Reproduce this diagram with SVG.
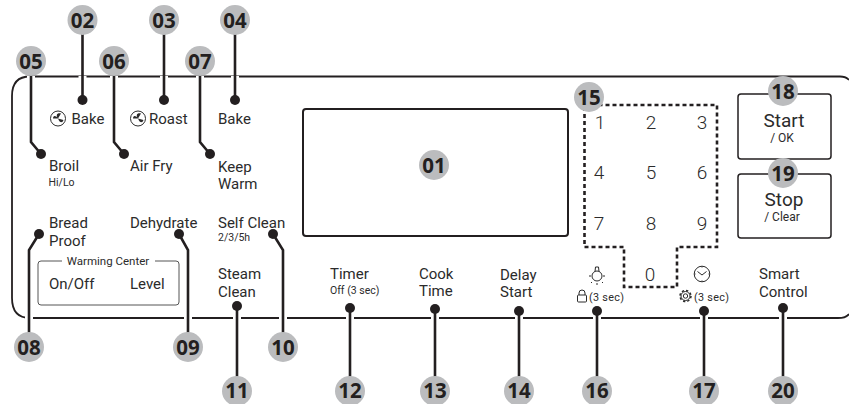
<svg xmlns="http://www.w3.org/2000/svg" width="849" height="404" viewBox="0 0 849 404">
<style>
text{font-family:Roboto,"Noto Sans","Liberation Sans",sans-serif;fill:#2b2b2b}
.l{font-size:15px}
.s{font-size:10.500px}
.t{font-size:10.800px;letter-spacing:.3px}
.k{font-size:19px;font-weight:300}
.n{font-family:"Noto Sans",sans-serif;font-size:20.500px;font-weight:700;fill:#231f20;text-anchor:middle}
.m{text-anchor:middle}
.b{fill:#bbbcbe}
.halo{fill:none;stroke:#fff;stroke-width:8}
.lead{fill:none;stroke:#231f20;stroke-width:2.600}
.dot{fill:#231f20}
.ic{fill:none;stroke:#2b2b2b;stroke-width:1}
</style>
<g id="panel"><path d="M849 80Q846 76.500 840 76.500H30Q12 76.500 12 96V298Q12 318 30 318H838Q846 318 849 314" fill="none" stroke="#231f20" stroke-width="1.800"/></g>
<g id="display"><rect x="303" y="109" width="265" height="127" rx="3" fill="#fff" stroke="#231f20" stroke-width="2"/></g>
<g id="keypad">
<path d="M584.500 105H717V247H677V287H624V247H584.500Z" fill="none" stroke="#231f20" stroke-width="2.600" stroke-dasharray="4 3"/>
<text x="600" y="129" class="k m">1</text><text x="651" y="129" class="k m">2</text><text x="702" y="129" class="k m">3</text><text x="599" y="179" class="k m">4</text><text x="651" y="179" class="k m">5</text><text x="702" y="179" class="k m">6</text><text x="599" y="230" class="k m">7</text><text x="651" y="230" class="k m">8</text><text x="702" y="230" class="k m">9</text><text x="650" y="281" class="k m">0</text>
</g>
<g id="connectors">
<path class="halo" d="M31 76V142L41 154M82.500 76V100M114 76V142L124 154M164 76V100M200 76V142L210 154M235 76V100M29 345V250L39 234M188 345V250L179 234M283 345V250L273 234M237 390V306M350 390V308M435 390V309M519 390V311M597 390V311M704 390V311M783 390V308"/>
<path class="lead" d="M31 61V142L41 154M82.500 20V100M114 61V142L124 154M164 20V100M200 61V142L210 154M235 20V100M29 345V250L39 234M188 345V250L179 234M283 345V250L273 234M237 390V306M350 390V308M435 390V309M519 390V311M597 390V311M704 390V311M783 390V308"/>
<g class="dot"><circle cx="82.500" cy="100" r="5"/><circle cx="164" cy="100" r="5"/><circle cx="235" cy="100" r="5"/><circle cx="41" cy="154" r="5"/><circle cx="124" cy="154" r="5"/><circle cx="210" cy="154" r="5"/><circle cx="39" cy="234" r="5"/><circle cx="179" cy="234" r="5"/><circle cx="273" cy="234" r="5"/><circle cx="237" cy="306" r="5"/><circle cx="350" cy="308" r="5"/><circle cx="435" cy="309" r="5"/><circle cx="519" cy="311" r="5"/><circle cx="597" cy="311" r="5"/><circle cx="704" cy="311" r="5"/><circle cx="783" cy="308" r="5"/></g>
</g>
<g id="labels">
<g class="ic"><circle cx="58" cy="118.500" r="7.500"/><path d="M58 118.500C55.500 115 57 112.500 61 113.500L58 118.500L63.500 120C62.500 123 60 123.500 58 118.500L53 118.500C53 115.500 55.500 115 58 118.500Z" fill="#2b2b2b" stroke="none"/></g>
<text x="71.500" y="124" class="l">Bake</text>
<g class="ic"><circle cx="138" cy="118.500" r="7.500"/><path d="M138 118.500C135.500 115 137 112.500 141 113.500L138 118.500L143.500 120C142.500 123 140 123.500 138 118.500L133 118.500C133 115.500 135.500 115 138 118.500Z" fill="#2b2b2b" stroke="none"/></g>
<text x="149" y="124" class="l">Roast</text>
<text x="218" y="124" class="l">Bake</text>
<text x="49" y="171" class="l">Broil</text><text x="48.500" y="186" class="s">Hi/Lo</text>
<text x="130" y="171" class="l">Air Fry</text>
<text x="218" y="172" class="l">Keep</text><text x="218" y="189" class="l">Warm</text>
<text x="49" y="228" class="l">Bread</text><text x="49" y="246" class="l">Proof</text>
<text x="130" y="228" class="l">Dehydrate</text>
<text x="218" y="228" class="l">Self Clean</text><text x="218" y="241" class="s">2/3/5h</text>
<text x="218" y="279" class="l">Steam</text><text x="218" y="297" class="l">Clean</text>
<text x="330" y="279" class="l">Timer</text><text x="330" y="294" class="s">Off (3 sec)</text>
<text x="419" y="279" class="l">Cook</text><text x="419" y="296" class="l">Time</text>
<text x="500" y="280" class="l">Delay</text><text x="500" y="297" class="l">Start</text>
<text x="759" y="279" class="l">Smart</text><text x="759" y="297" class="l">Control</text>
<g class="ic"><circle cx="597" cy="276" r="5"/><path d="M595 271.500L595.500 267H598.500L599 271.500M589 276H591M603 276H605M592 282L591 283M602 282L603 283M597 283V285"/></g>
<g class="ic"><rect x="577.500" y="295" width="9" height="7" rx="1"/><path d="M579 295V293A3 3 0 0 1 585 293V295"/></g>
<text x="589" y="300.500" class="t">(3 sec)</text>
<g class="ic"><circle cx="702" cy="274" r="7.800"/><path d="M697.500 271.500L702 275L706.500 271.500M702 266.500V267.500M702 280.500V281.500M694.500 274H695.500M708.500 274H709.500"/></g>
<g class="ic"><circle cx="685.500" cy="296" r="2.200"/><circle cx="685.500" cy="296" r="4.500"/><circle cx="685.500" cy="296" r="5.500" stroke-width="1.500" stroke-dasharray="2.300 2"/></g>
<text x="694" y="300.500" class="t">(3 sec)</text>
</g>
<g id="warming-center">
<path d="M62 261H41Q38 261 38 264V302Q38 305 41 305H176Q179 305 179 302V264Q179 261 176 261H155" fill="none" stroke="#555" stroke-width="1"/>
<text x="108" y="265" class="m" style="font-size:11.500px">Warming Center</text>
<text x="49" y="289" class="l">On/Off</text><text x="130" y="289" class="l">Level</text>
</g>
<g id="start"><rect x="738" y="94" width="93" height="65" rx="3" fill="#fff" stroke="#231f20" stroke-width="1.500"/><text x="784" y="127" class="m" style="font-size:19px">Start</text><text x="782" y="142" class="m" style="font-size:12px">/ OK</text></g>
<g id="stop"><rect x="738" y="174" width="93" height="64" rx="3" fill="#fff" stroke="#231f20" stroke-width="1.500"/><text x="784" y="206" class="m" style="font-size:19px">Stop</text><text x="782" y="221" class="m" style="font-size:12px">/ Clear</text></g>
<g id="n01"><circle class="b" cx="434" cy="165" r="15"/><text class="n" x="434" y="172.500">01</text></g>
<g id="n02"><circle class="b" cx="82.500" cy="20" r="15"/><text class="n" x="82.500" y="27.500">02</text></g>
<g id="n03"><circle class="b" cx="164" cy="20" r="15"/><text class="n" x="164" y="27.500">03</text></g>
<g id="n04"><circle class="b" cx="235" cy="20" r="15"/><text class="n" x="235" y="27.500">04</text></g>
<g id="n05"><circle class="b" cx="31" cy="61" r="15"/><text class="n" x="31" y="68.500">05</text></g>
<g id="n06"><circle class="b" cx="114" cy="61" r="15"/><text class="n" x="114" y="68.500">06</text></g>
<g id="n07"><circle class="b" cx="200" cy="61" r="15"/><text class="n" x="200" y="68.500">07</text></g>
<g id="n08"><circle class="b" cx="29" cy="347" r="15"/><text class="n" x="29" y="354.500">08</text></g>
<g id="n09"><circle class="b" cx="188" cy="347" r="15"/><text class="n" x="188" y="354.500">09</text></g>
<g id="n10"><circle class="b" cx="283" cy="347" r="15"/><text class="n" x="283" y="354.500">10</text></g>
<g id="n11"><circle class="b" cx="237" cy="391" r="15"/><text class="n" x="237" y="398">11</text></g>
<g id="n12"><circle class="b" cx="350" cy="391" r="15"/><text class="n" x="350" y="398">12</text></g>
<g id="n13"><circle class="b" cx="435" cy="391" r="15"/><text class="n" x="435" y="398">13</text></g>
<g id="n14"><circle class="b" cx="519" cy="391" r="15"/><text class="n" x="519" y="398">14</text></g>
<g id="n15"><circle class="b" cx="589" cy="97" r="15"/><text class="n" x="589" y="104.500">15</text></g>
<g id="n16"><circle class="b" cx="597" cy="391" r="15"/><text class="n" x="597" y="398">16</text></g>
<g id="n17"><circle class="b" cx="704" cy="391" r="15"/><text class="n" x="704" y="398">17</text></g>
<g id="n18"><circle class="b" cx="783" cy="91" r="15"/><text class="n" x="783" y="98.500">18</text></g>
<g id="n19"><circle class="b" cx="783" cy="173" r="15"/><text class="n" x="783" y="180.500">19</text></g>
<g id="n20"><circle class="b" cx="783" cy="391" r="15"/><text class="n" x="783" y="398">20</text></g>
</svg>
